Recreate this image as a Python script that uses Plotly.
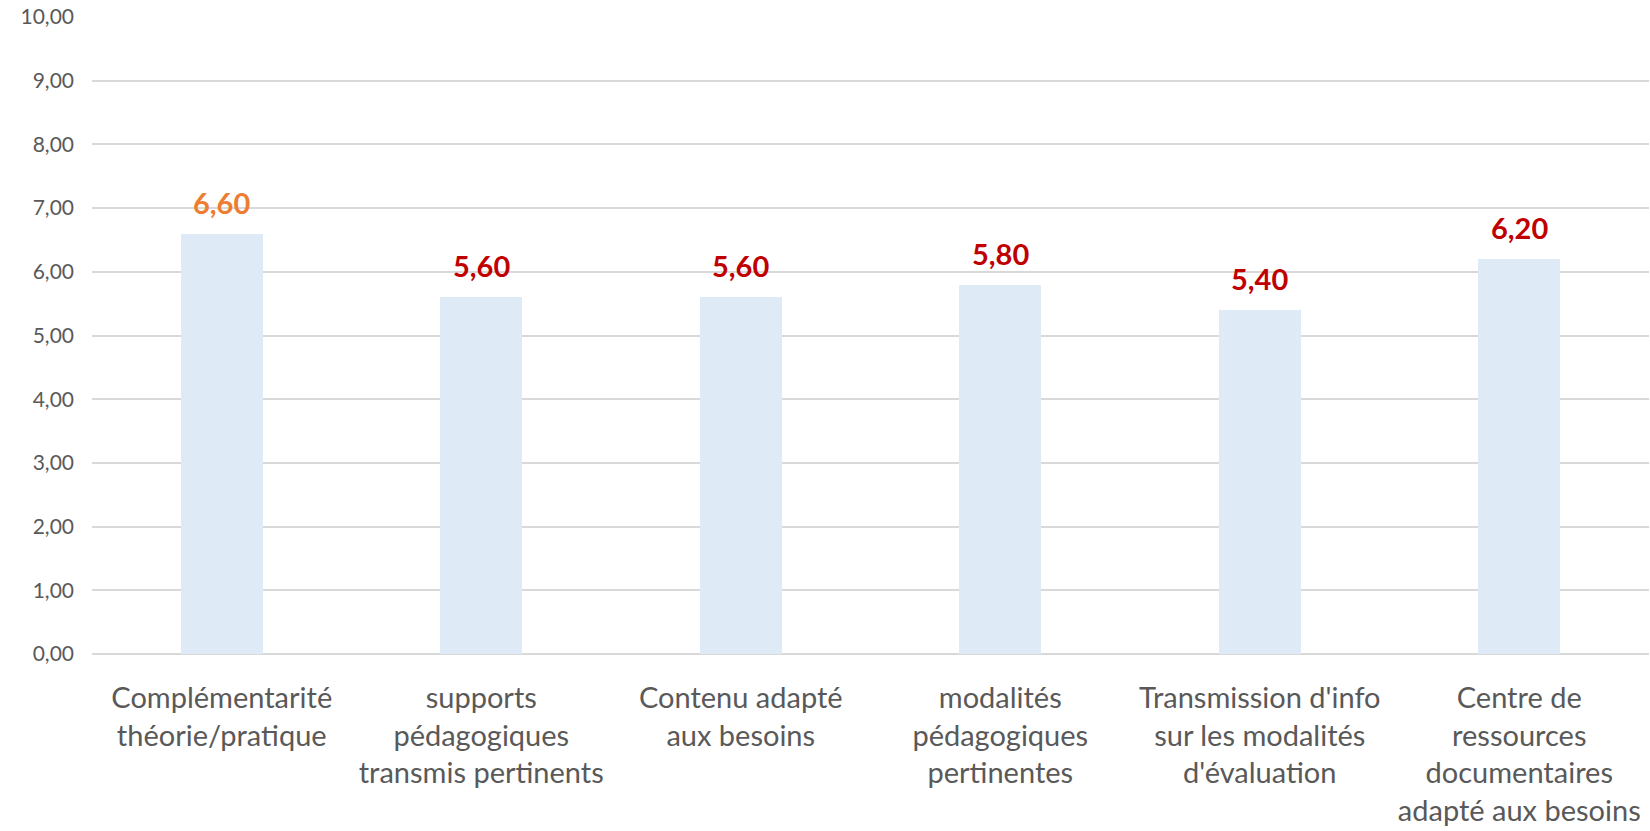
import plotly.graph_objects as go

categories = [
    "Complémentarité<br>théorie/pratique",
    "supports<br>pédagogiques<br>transmis pertinents",
    "Contenu adapté<br>aux besoins",
    "modalités<br>pédagogiques<br>pertinentes",
    "Transmission d'info<br>sur les modalités<br>d'évaluation",
    "Centre de<br>ressources<br>documentaires<br>adapté aux besoins",
]
scores = [6.60, 5.60, 5.60, 5.80, 5.40, 6.20]
label_colors = ["#ED7D31", "#C00000", "#C00000", "#C00000", "#C00000", "#C00000"]

FONT = "Lato"
TEXT_GREY = "#595959"

fig = go.Figure()
fig.add_trace(go.Bar(
    x=categories,
    y=scores,
    width=0.316,
    marker=dict(color="#DEEAF6", line=dict(width=0)),
    hoverinfo="skip",
))

# value labels above each bar
for cat, val, col in zip(categories, scores, label_colors):
    fig.add_annotation(
        x=cat, y=val,
        text="<b>" + f"{val:.2f}".replace(".", ",") + "</b>",
        showarrow=False,
        yanchor="bottom",
        yshift=12,
        font=dict(family=FONT, size=29, color=col),
    )

fig.update_layout(
    width=1650, height=831,
    margin=dict(l=92, r=1, t=17, b=177),
    paper_bgcolor="white",
    plot_bgcolor="white",
    separators=", ",
    showlegend=False,
    bargap=0,
    font=dict(family=FONT, color=TEXT_GREY),
)
fig.update_yaxes(
    range=[0, 10],
    dtick=1,
    tickformat=".2f",
    showgrid=True,
    gridcolor="#D9D9D9",
    gridwidth=2,
    zeroline=True,
    zerolinecolor="#D9D9D9",
    zerolinewidth=2,
    showline=False,
    ticks="",
    ticklabelstandoff=17,
    tickfont=dict(family=FONT, size=21, color=TEXT_GREY),
)
fig.update_xaxes(
    showgrid=False,
    showline=False,
    ticks="",
    tickangle=0,
    ticklabelstandoff=24,
    tickfont=dict(family=FONT, size=29, color=TEXT_GREY),
)

fig.write_html("out.html")
